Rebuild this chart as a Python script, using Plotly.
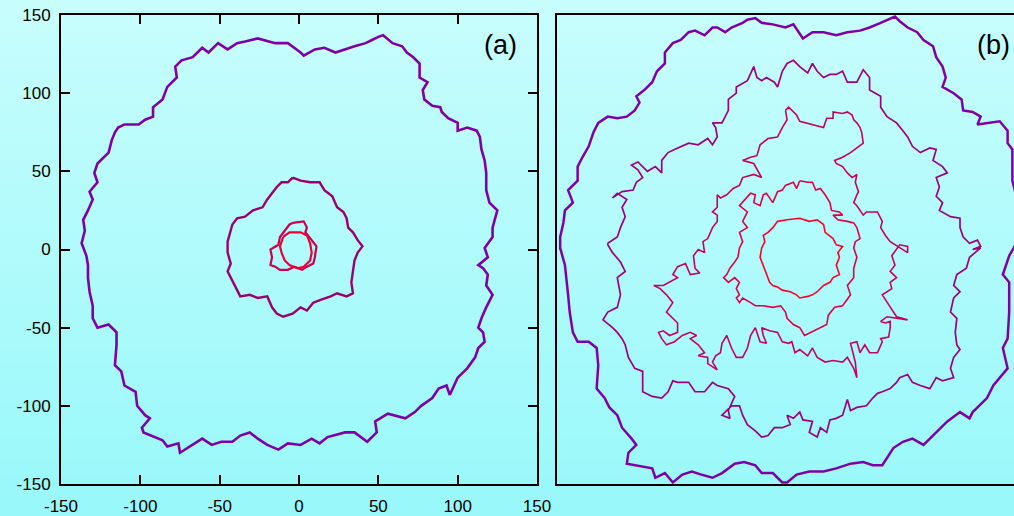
import plotly.graph_objects as go

# ---------------- data (data units) ----------------
tick_vals = [-150, -100, -50, 0, 50, 100, 150]
tick_text = ["-150", "-100", "-50", "0", "50", "100", "150"]

# panel (a) outer front
a_outer_x = [1,-7,-15,-26,-34,-39,-45,-51,-57,-61,
             -67,-74,-78,-77,-83,-86,-92,-92,-97,-101,
             -110,-114,-116,-118,-120,-127,-129,-127,-132,-130,
             -133,-136,-135,-137,-134,-133,-133,-132,-130,-130,
             -127,-120,-115,-115,-116,-112,-110,-103,-102,-97,
             -94,-99,-98,-91,-86,-83,-76,-75,-67,-61,
             -55,-49,-42,-37,-31,-26,-20,-13,-7,1,
             8,13,18,29,35,43,49,48,56,67,
             73,77,84,88,93,95,100,106,111,113,
             117,116,113,115,118,122,118,119,116,113,
             119,117,122,122,125,120,118,118,117,115,
             114,112,106,100,100,94,90,89,84,79,
             78,81,76,76,72,68,65,59,53,50,
             46,42,35,29,23,16,10,3]
a_outer_y = [126,132,132,135,133,132,128,132,126,129,
             123,121,117,110,104,96,91,85,83,80,
             80,78,75,70,62,55,49,43,37,32,
             25,19,12,4,-4,-10,-18,-27,-36,-44,
             -50,-48,-53,-61,-74,-78,-87,-91,-100,-106,
             -108,-114,-117,-120,-122,-126,-124,-130,-125,-121,
             -125,-123,-123,-119,-117,-121,-125,-128,-124,-125,
             -121,-124,-120,-117,-117,-123,-117,-110,-105,-108,
             -104,-100,-95,-89,-87,-93,-82,-76,-69,-63,
             -59,-53,-50,-44,-37,-29,-23,-16,-12,-10,
             -5,1,8,14,25,30,38,49,57,64,
             72,76,78,76,81,84,88,91,92,96,
             102,107,110,119,123,126,130,132,137,136,
             134,132,130,128,126,129,128,124]

# panel (a) middle front
a_mid_x = [-4,1,7,13,16,21,24,28,30,31,
           34,37,40,37,35,34,33,34,30,24,
           20,14,9,5,1,-4,-10,-14,-17,-20,
           -26,-31,-37,-39,-42,-45,-43,-45,-45,-43,
           -42,-39,-34,-29,-23,-20,-17,-14,-11,-7]
a_mid_y = [46,44,43,43,38,34,27,24,20,14,
           11,6,2,-2,-7,-15,-21,-28,-30,-28,
           -30,-32,-34,-39,-37,-41,-43,-41,-37,-30,
           -31,-29,-30,-26,-20,-14,-9,-2,5,12,
           16,20,21,25,27,32,36,40,43,43]

# panel (a) inner fronts
a_in2_x = [-4,3,5,4,8,11,10,9,5,2,-3,-7,-12,-15,-18,-17,-18,-13,-12,-9,-6]
a_in2_y = [17,18,14,11,6,2,-5,-9,-11,-13,-11,-13,-13,-11,-10,-5,0,3,8,12,16]
a_in1_x = [-10,-6,1,5,7,8,7,3,-1,-6,-9,-11,-12]
a_in1_y = [8,11,11,9,4,-2,-7,-11,-12,-10,-7,-2,2]

# panel (b) fronts, innermost (c1) to outermost (c5)
b_c1_x = [3,9,14,18,19,24,26,30,27,28,
          26,28,24,22,18,14,11,8,3,1,
          -3,-8,-11,-14,-16,-18,-20,-22,-21,-19,
          -20,-17,-14,-11,-5,1]
b_c1_y = [20,18,19,16,11,7,3,2,-2,-5,
          -10,-16,-18,-21,-23,-27,-29,-30,-31,-29,
          -27,-26,-24,-23,-21,-16,-10,-5,1,5,
          9,11,14,18,19,20]

b_c2_x = [3,8,11,13,16,19,22,23,28,30,
          24,27,33,37,39,41,38,37,39,37,
          37,33,35,30,25,21,20,16,11,6,
          3,-1,-5,-6,-9,-14,-20,-25,-28,-33,
          -35,-37,-35,-37,-35,-38,-42,-45,-43,-41,
          -38,-36,-35,-33,-35,-30,-33,-30,-35,-28,
          -25,-26,-22,-20,-18,-14,-11,-8,-6,-1,
          1]
b_c2_y = [44,43,43,38,39,35,30,25,24,22,
          22,19,18,17,14,7,5,1,-5,-12,
          -18,-23,-29,-36,-37,-42,-48,-50,-52,-55,
          -50,-48,-44,-40,-36,-37,-36,-36,-34,-31,
          -34,-31,-29,-25,-21,-18,-21,-18,-16,-12,
          -8,-5,1,5,11,14,18,24,28,36,
          35,30,28,35,36,30,37,38,41,43,
          39]

b_c3_x = [-6,-5,-8,-11,-17,-22,-24,-28,-33,-26,
          -21,-26,-33,-35,-39,-43,-47,-49,-49,-52,
          -49,-49,-52,-55,-58,-57,-61,-64,-63,-60,
          -66,-69,-74,-77,-74,-83,-89,-85,-81,-77,
          -81,-77,-74,-74,-79,-83,-86,-84,-81,-76,
          -71,-66,-62,-66,-61,-57,-61,-55,-55,-49,
          -52,-50,-47,-46,-43,-40,-37,-33,-30,-28,
          -25,-22,-18,-20,-21,-16,-11,-8,-4,-2,
          0,3,8,11,14,19,24,30,33,37,
          39,38,35,39,41,44,47,52,55,54,
          59,60,60,57,54,58,71,64,60,58,
          55,61,60,64,60,63,61,66,71,71,
          60,57,54,55,52,45,43,39,37,39,
          40,38,39,36,33,30,26,25,30,35,
          39,41,43,42,41,39,37,36,33,30,
          24,24,20,18,11,8,3,1,-4]
b_c3_y = [89,83,78,72,71,67,60,59,57,55,
          46,48,46,41,39,35,33,35,27,24,
          22,18,14,7,5,-2,0,-4,-12,-15,
          -16,-9,-11,-16,-18,-23,-23,-25,-29,-34,
          -40,-44,-47,-53,-55,-52,-53,-57,-61,-59,
          -55,-53,-55,-57,-61,-66,-68,-69,-73,-77,
          -72,-68,-66,-60,-55,-63,-69,-69,-63,-55,
          -50,-59,-60,-55,-50,-52,-53,-59,-60,-59,
          -66,-64,-68,-63,-69,-72,-71,-72,-69,-76,
          -82,-72,-60,-59,-66,-61,-66,-66,-59,-57,
          -56,-50,-46,-47,-46,-43,-45,-43,-37,-34,
          -29,-25,-21,-18,-14,-10,-4,3,2,-2,
          5,9,14,18,24,24,22,28,30,35,
          37,43,48,46,49,53,55,57,59,62,
          65,67,68,75,78,81,83,86,88,87,
          88,84,84,78,80,81,82,86,91]

b_c4_x = [-118,-112,-110,-107,-109,-106,-112,-115,-109,-102,
          -100,-96,-99,-103,-99,-93,-88,-84,-84,-80,
          -76,-71,-67,-61,-55,-52,-49,-50,-52,-46,
          -44,-42,-42,-37,-37,-32,-30,-26,-24,-21,
          -18,-13,-11,-8,-6,
          -5,-1,3,8,11,14,18,22,26,30,
          33,39,43,47,47,54,54,58,64,68,
          71,74,79,85,89,87,93,96,89,91,
          89,93,91,98,104,104,106,110,115,117,
          112,117,110,108,102,100,104,100,98,102,
          101,102,104,100,98,100,93,89,85,79,
          74,71,66,64,60,55,52,49,45,39,
          35,33,30,26,22,20,16,14,9,11,
          5,3,-1,-5,-3,-8,
          -13,-17,-21,-25,-30,-33,-35,-40,-44,-46,
          -41,-42,-38,-42,-49,-52,-57,-63,-67,-74,
          -77,-80,-84,-90,-96,-96,-96,-101,-105,-107,
          -109,-112,-115,-121,-118,-112,-110,-112,-107,-110,
          -115,-118]
b_c4_y = [4,8,14,21,27,32,36,33,37,38,
          43,46,51,54,56,50,53,49,57,62,
          64,66,68,67,71,67,72,78,81,81,
          85,89,96,100,104,107,108,117,110,108,
          110,107,104,114,117,
          119,121,117,113,119,114,110,112,112,114,
          107,107,115,110,102,98,91,85,81,76,
          72,66,62,65,64,57,53,49,46,40,
          34,30,25,21,20,14,8,4,6,2,
          0,1,-5,-12,-16,-23,-27,-31,-40,-44,
          -53,-61,-64,-69,-76,-82,-84,-82,-89,-87,
          -85,-80,-82,-85,-89,-91,-92,-95,-100,-101,
          -103,-96,-106,-108,-109,-117,-114,-120,-117,-110,
          -109,-104,-108,-106,-112,-114,
          -114,-119,-120,-116,-112,-106,-100,-100,-104,-106,
          -108,-103,-94,-89,-87,-85,-91,-91,-85,-85,
          -84,-91,-95,-94,-91,-85,-78,-76,-69,-61,
          -57,-53,-50,-45,-40,-37,-29,-18,-14,-8,
          -2,3]

b_c5_x = [-148,-148,-146,-145,-140,-143,-137,-137,-134,-130,
          -127,-124,-118,-112,-106,-101,-98,-100,-95,-90,
          -87,-82,-82,-77,-72,-67,-63,-57,-52,-49,
          -44,-40,-33,-30,-25,-21,-14,-6,
          -1,5,11,18,26,33,41,47,54,63,
          66,71,77,81,87,89,93,95,93,100,
          105,106,112,117,115,123,129,134,134,137,
          137,137,140,142,139,
          135,131,135,135,134,131,134,125,121,112,
          110,104,96,89,81,74,68,62,58,55,
          49,43,35,26,18,9,1,-5,
          -8,-14,-21,-25,-32,-38,-46,-52,-59,-65,
          -71,-77,-82,-88,-90,-96,-106,-105,-100,-103,
          -109,-112,-117,-120,-125,-124,-125,-130,-137,-140,
          -142,-143,-144,-145,-148]
b_c5_y = [0,8,17,25,30,38,44,53,59,66,
          75,81,85,84,85,89,94,98,102,107,
          114,119,126,132,134,139,140,137,142,142,
          139,142,145,147,148,145,144,142,
          144,135,139,139,137,139,140,142,145,149,
          146,142,139,134,130,123,117,110,104,100,
          96,89,88,85,80,81,82,76,68,64,
          53,44,32,16,3,
          -4,-16,-21,-40,-57,-63,-76,-87,-95,-104,
          -108,-104,-110,-117,-125,-121,-123,-127,-133,-138,
          -138,-136,-137,-140,-142,-142,-144,-149,
          -149,-143,-143,-138,-136,-137,-143,-146,-144,-142,
          -144,-149,-143,-146,-140,-139,-137,-130,-125,-121,
          -114,-106,-101,-95,-89,-74,-63,-59,-59,-53,
          -40,-29,-18,-10,1]

panel_labels = ["(a)", "(b)"]

# ---------------- figure ----------------
W, H = 1014, 516
fig = go.Figure()


def closed(xs, ys):
    return list(xs) + [xs[0]], list(ys) + [ys[0]]


def add_curve(xs, ys, color, width, xa, ya):
    cx, cy = closed(xs, ys)
    fig.add_trace(go.Scatter(x=cx, y=cy, mode="lines",
                             line=dict(color=color, width=width),
                             xaxis=xa, yaxis=ya, showlegend=False,
                             hoverinfo="skip"))


add_curve(a_outer_x, a_outer_y, "rgb(128,0,168)", 2.6, "x", "y")
add_curve(a_mid_x, a_mid_y, "rgb(155,0,115)", 2.4, "x", "y")
add_curve(a_in2_x, a_in2_y, "rgb(205,0,80)", 2.2, "x", "y")
add_curve(a_in1_x, a_in1_y, "rgb(240,0,50)", 2.2, "x", "y")

add_curve(b_c5_x, b_c5_y, "rgb(128,0,168)", 2.5, "x2", "y2")
add_curve(b_c4_x, b_c4_y, "rgb(155,0,135)", 1.7, "x2", "y2")
add_curve(b_c3_x, b_c3_y, "rgb(200,0,95)", 1.6, "x2", "y2")
add_curve(b_c2_x, b_c2_y, "rgb(225,0,70)", 1.6, "x2", "y2")
add_curve(b_c1_x, b_c1_y, "rgb(255,0,40)", 1.6, "x2", "y2")

# background vertical gradient (light cyan)
shapes = []
n = 64
top = (200, 253, 253)
bot = (152, 248, 250)
for i in range(n):
    t = i / (n - 1)
    c = tuple(round(top[k] + (bot[k] - top[k]) * t) for k in range(3))
    shapes.append(dict(type="rect", xref="paper", yref="paper",
                       x0=0, x1=1, y0=1 - (i + 1) / n, y1=1 - i / n + 0.002,
                       fillcolor="rgb(%d,%d,%d)" % c, line=dict(width=0),
                       layer="below"))

font = dict(family="Liberation Sans, Arial, sans-serif", size=17, color="black")
ydom = [1 - 484 / H, 1 - 15 / H]

fig.update_layout(
    template="none",
    width=W, height=H,
    margin=dict(l=0, r=0, t=0, b=0, pad=0),
    paper_bgcolor="rgb(176,250,251)",
    plot_bgcolor="rgba(0,0,0,0)",
    shapes=shapes,
    showlegend=False,
    xaxis=dict(domain=[61 / W, 537 / W], range=[-150, 150], anchor="y",
               automargin=False,
               tickmode="array", tickvals=tick_vals, ticktext=tick_text,
               ticks="inside", ticklen=9, tickwidth=1.5, tickcolor="black",
               showline=True, linewidth=2, linecolor="black", mirror="ticks",
               showgrid=False, zeroline=False, tickfont=font,
               ticklabelstandoff=6),
    yaxis=dict(domain=ydom, range=[-150, 150], anchor="x",
               automargin=False,
               tickmode="array", tickvals=tick_vals, ticktext=tick_text,
               ticks="inside", ticklen=9, tickwidth=1.5, tickcolor="black",
               showline=True, linewidth=2, linecolor="black", mirror="ticks",
               showgrid=False, zeroline=False, tickfont=font,
               ticklabelstandoff=5),
    xaxis2=dict(domain=[557 / W, 1.0], range=[-150, -150 + 300 * (W - 557) / 476],
                anchor="y2", automargin=False, showticklabels=False, ticks="",
                showline=True, linewidth=2, linecolor="black", mirror=True,
                showgrid=False, zeroline=False),
    yaxis2=dict(domain=ydom, range=[-150, 150], anchor="x2", automargin=False,
                showticklabels=False, ticks="",
                showline=True, linewidth=2, linecolor="black", mirror=False,
                showgrid=False, zeroline=False),
    annotations=[
        dict(text=panel_labels[0], x=127, y=131, xref="x", yref="y",
             showarrow=False, xanchor="center", yanchor="middle",
             font=dict(family="Liberation Sans, Arial, sans-serif", size=27,
                       color="black")),
        dict(text=panel_labels[1], x=125, y=131, xref="x2", yref="y2",
             showarrow=False, xanchor="center", yanchor="middle",
             font=dict(family="Liberation Sans, Arial, sans-serif", size=27,
                       color="black")),
    ],
)

fig.write_html("out.html",
               config={"displayModeBar": False},
               post_script="document.body.style.margin='0';"
                           "document.body.style.overflow='hidden';")
